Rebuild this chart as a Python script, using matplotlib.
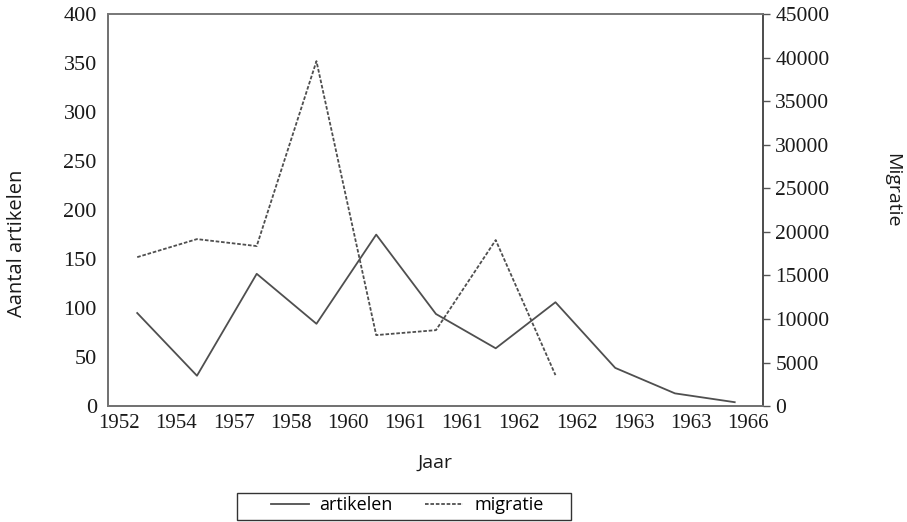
import numpy as np
import matplotlib.pyplot as plt
from matplotlib.lines import Line2D
from matplotlib.patches import Rectangle

# jaar-labels langs de x-as
jaar_labels = ["1952", "1954", "1957", "1958", "1960", "1961",
               "1961", "1962", "1962", "1963", "1963", "1966"]

# aantal artikelen per periode
artikelen = [95, 31, 135, 84, 175, 94, 59, 106, 39, 13, 4]

# migratie per periode
migratie = [17100, 19170, 18370, 39600, 8150, 8720, 19060, 3560]

lijn_kleur = "#4f4f4f"
tick_font = "Liberation Serif"
label_font = "Open Sans"

fig = plt.figure(figsize=(9.07, 5.22), dpi=100)
ax = fig.add_axes([0.119, 0.222, 0.722, 0.751])
ax2 = ax.twinx()

x_art = np.arange(len(artikelen))
x_mig = np.arange(len(migratie))

ax.plot(x_art, artikelen, color=lijn_kleur, lw=1.3, ls="-")
ax2.plot(x_mig, migratie, color=lijn_kleur, lw=1.3, ls=(0, (2, 1)))

ax.set_xlim(-0.49, 10.47)
ax.set_ylim(0, 400)
ax2.set_ylim(0, 45000)

ax.set_xticks(np.linspace(-0.30, 10.22, len(jaar_labels)))
ax.set_xticklabels(jaar_labels)
ax.set_yticks(np.arange(0, 401, 50))
ax2.set_yticks(np.arange(0, 45001, 5000))

ax.tick_params(axis="x", length=0, pad=6, labelsize=15)
ax.tick_params(axis="y", length=0, pad=8, labelsize=16)
ax2.tick_params(axis="y", length=5, width=1, color="#555555", pad=4, labelsize=15.5)
for lab in ax.get_xticklabels() + ax.get_yticklabels() + ax2.get_yticklabels():
    lab.set_fontfamily(tick_font)
    lab.set_color("#1a1a1a")

for a in (ax, ax2):
    for s in a.spines.values():
        s.set_color("#777777")
        s.set_linewidth(1.2)
ax.spines["left"].set_color("#444444")
ax.spines["bottom"].set_color("#444444")
ax2.spines["right"].set_color("#444444")

ax.set_xlabel("Jaar", fontfamily=label_font, fontsize=14, color="#1a1a1a",
              ha="center", va="center")
ax.xaxis.set_label_coords(0.5, -0.145)
ax.set_ylabel("Aantal artikelen", fontfamily=label_font, fontsize=14.5, color="#1a1a1a",
              ha="center", va="center")
ax.yaxis.set_label_coords(-0.139, 0.416)
ax2.set_ylabel("Migratie", fontfamily=label_font, fontsize=14, rotation=-90,
               color="#1a1a1a", ha="center", va="center")
ax2.yaxis.set_label_coords(1.198, 0.551)

handles = [Line2D([], [], color=lijn_kleur, lw=1.3, ls="-"),
           Line2D([], [], color=lijn_kleur, lw=1.3, ls=(0, (2, 1)))]
leg = fig.legend(handles, ["artikelen", "migratie"], loc="center",
                 bbox_to_anchor=(0.449, 0.0325), ncol=2, frameon=False,
                 prop={"family": label_font, "size": 13}, handlelength=2.1,
                 columnspacing=1.8, borderpad=0.0, handletextpad=0.6)
fig.patches.append(Rectangle((237 / 907, 2 / 522), 334 / 907, 27 / 522,
                             transform=fig.transFigure, fill=False,
                             edgecolor="#333333", linewidth=1.0))

fig.savefig("out.png", dpi=100)
